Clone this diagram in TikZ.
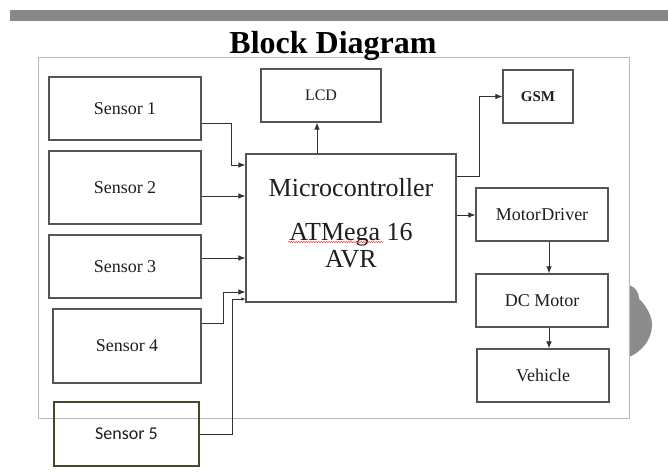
\documentclass[tikz,border=0pt]{standalone}
\usepackage{fontspec}
\setmainfont{Liberation Serif}
\newfontfamily\calib{Carlito}
\usetikzlibrary{arrows.meta,decorations.pathmorphing}
\definecolor{barc}{RGB}{135,135,135}
\definecolor{framec}{RGB}{185,185,180}
\definecolor{boxc}{RGB}{85,85,85}
\definecolor{olivec}{RGB}{70,70,45}
\definecolor{linec}{RGB}{50,50,50}
\definecolor{txtc}{RGB}{30,30,30}
\definecolor{blobc}{RGB}{140,140,140}
\tikzset{
  blk/.style={draw=boxc, line width=1.1pt, rectangle, inner sep=0pt, text=txtc},
  arr/.style={draw=linec, line width=0.9pt, -{Latex[length=7pt,width=5.5pt]}},
  arrs/.style={draw=linec, line width=0.9pt, -{Latex[length=4pt,width=3.5pt]}},
  sfont/.style={font=\fontsize{18}{20}\selectfont},
}
\begin{document}
\begin{tikzpicture}[x=1pt,y=-1pt]
\useasboundingbox[fill=white] (0,0) rectangle (668,472);
% top bar
\fill[barc] (10,10) rectangle (668,20.5);
% gray blob at right
\fill[blobc] (629,285) .. controls (635,287) and (639,292) .. (639,299)
  .. controls (646,305) and (652,316) .. (652,325)
  .. controls (652,340) and (641,352) .. (629,357) -- cycle;
% frame
\draw[framec, line width=1pt] (38,57) rectangle (629,418);
% title
\node[font=\bfseries\fontsize{32}{34}\selectfont, text=black, anchor=base] (title) at (333,53) {Block Diagram};
% sensors
\node[blk, sfont, minimum width=152pt, minimum height=63pt] (s1) at (125,108.5) {Sensor 1};
\node[blk, sfont, minimum width=152pt, minimum height=73pt] (s2) at (125,187.5) {Sensor 2};
\node[blk, sfont, minimum width=152pt, minimum height=63pt] (s3) at (125,266.5) {Sensor 3};
\node[blk, sfont, minimum width=148pt, minimum height=74pt] (s4) at (127,346) {Sensor 4};
\node[blk, draw=olivec, font=\calib\fontsize{18}{20}\selectfont, minimum width=145pt, minimum height=64pt] (s5) at (126.5,434) {Sensor 5};
% microcontroller
\node[blk, minimum width=210pt, minimum height=148pt] (mc) at (351,228) {};
\node[align=center, text=txtc, font=\fontsize{26}{27}\selectfont, inner sep=0pt] (mclabel) at (351,223) {Microcontroller\\[17pt]ATMega 16\\AVR};
% right side blocks
\node[blk, font=\fontsize{16}{18}\selectfont, minimum width=120pt, minimum height=53pt] (lcd) at (321,95.5) {LCD};
\node[blk, font=\bfseries\fontsize{15}{17}\selectfont, minimum width=70pt, minimum height=53pt] (gsm) at (538,96.5) {GSM};
\node[blk, sfont, minimum width=132pt, minimum height=53pt] (md) at (542,214.5) {Motor\kern0.5pt Driver};
\node[blk, sfont, minimum width=132pt, minimum height=53pt] (dc) at (542,300.5) {DC Motor};
\node[blk, sfont, minimum width=132pt, minimum height=53pt] (veh) at (543,375.5) {Vehicle};
% spelling squiggle
\coordinate (sq1) at (288,242);
\coordinate (sq2) at (383,242);
\draw[red!75, line width=0.5pt, decorate, decoration={snake, amplitude=0.7pt, segment length=2.5pt}] (sq1) -- (sq2);
% connectors
\draw[arr] ([yshift=-14.5pt]s1.east) -- ++(30,0) |- ([yshift=63pt]mc.west);
\draw[arr] ([yshift=-8.5pt]s2.east) -- ([yshift=-8.5pt]s2.east -| mc.west);
\draw[arr] ([yshift=8.5pt]s3.east) -- ([yshift=8.5pt]s3.east -| mc.west);
\draw[arr] ([yshift=23pt]s4.east) -- ++(22,0) |- ([yshift=-64pt]mc.west);
\draw[arrs] (s5.east) -- ++(33,0) |- ([yshift=-71pt]mc.west);
\draw[arr] ([xshift=-34pt]mc.north) -- ([xshift=-34pt]mc.north |- lcd.south);
\draw[arr] ([yshift=52pt]mc.east) -- ++(23,0) |- (gsm.west);
\draw[arr] ([yshift=13pt]mc.east) -- ([yshift=13pt]mc.east -| md.west);
\draw[arr] ([xshift=7pt]md.south) -- ([xshift=7pt]md.south |- dc.north);
\draw[arr] ([xshift=7pt]dc.south) -- ([xshift=7pt]dc.south |- veh.north);
\end{tikzpicture}
\end{document}
